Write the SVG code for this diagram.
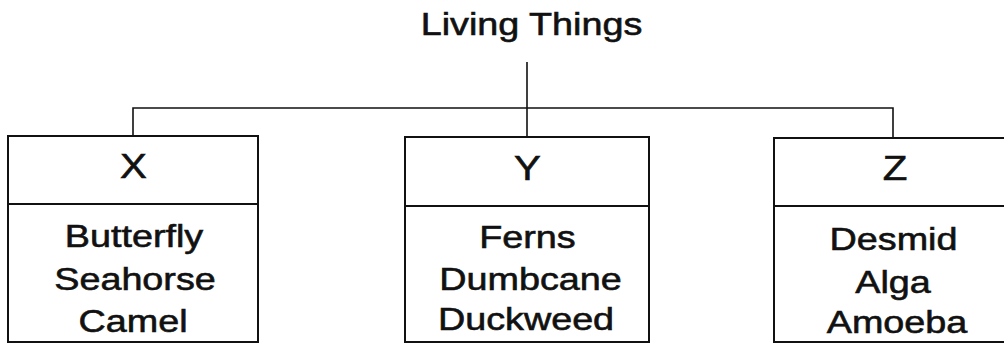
<svg xmlns="http://www.w3.org/2000/svg" width="1004" height="344" viewBox="0 0 1004 344">
<style>
.box{fill:#fff;stroke:#111;stroke-width:2}
.div{stroke:#111;stroke-width:2}
.conn{fill:none;stroke:#111;stroke-width:1.6}
text{font-family:"Liberation Sans",Arial,sans-serif;fill:#111;stroke:#111;stroke-width:0.6;text-anchor:middle}
.t{font-size:32px}
.h{font-size:35px}
</style>
<rect width="1004" height="344" fill="#fff"/>
<g id="connectors">
<path class="conn" d="M527 62V108M133 137V108H893V138M527 108V137"/>
</g>
<g id="root">
<text class="t" transform="translate(531.5,35) scale(1.18,1)">Living Things</text>
</g>
<g id="nodeX">
<rect class="box" x="8" y="136" width="250" height="206"/>
<line class="div" x1="8" y1="204" x2="258" y2="204"/>
<text class="h" transform="translate(133.5,178) scale(1.15,1)">X</text>
<text class="t" transform="translate(134,247) scale(1.18,1)">Butterfly</text>
<text class="t" transform="translate(135,290) scale(1.18,1)">Seahorse</text>
<text class="t" transform="translate(133,332) scale(1.18,1)">Camel</text>
</g>
<g id="nodeY">
<rect class="box" x="405" y="137" width="244" height="205"/>
<line class="div" x1="405" y1="206" x2="649" y2="206"/>
<text class="h" transform="translate(527.5,180) scale(1.15,1)">Y</text>
<text class="t" transform="translate(527.5,248) scale(1.18,1)">Ferns</text>
<text class="t" transform="translate(530.5,290) scale(1.18,1)">Dumbcane</text>
<text class="t" transform="translate(526,330) scale(1.18,1)">Duckweed</text>
</g>
<g id="nodeZ">
<rect class="box" x="774" y="138" width="250" height="204"/>
<line class="div" x1="774" y1="206" x2="1004" y2="206"/>
<text class="h" transform="translate(895,180) scale(1.15,1)">Z</text>
<text class="t" transform="translate(893.5,250) scale(1.18,1)">Desmid</text>
<text class="t" transform="translate(893,293) scale(1.18,1)">Alga</text>
<text class="t" transform="translate(897,333) scale(1.18,1)">Amoeba</text>
</g>
</svg>
